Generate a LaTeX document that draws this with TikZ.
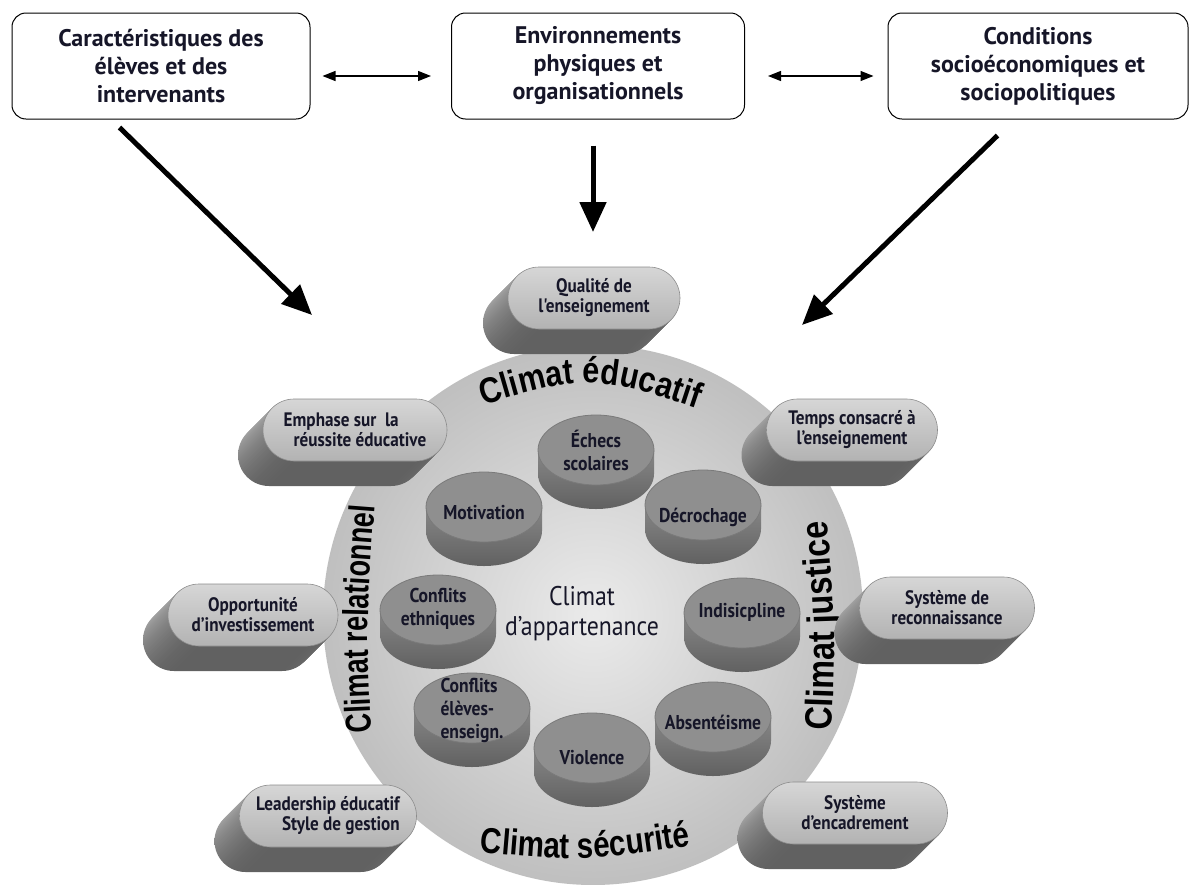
\documentclass[tikz,border=0pt]{standalone}
\usepackage{fontspec}
\setmainfont{PT Sans}
\newfontfamily\labelfont[FakeStretch=0.88]{PT Sans}
\newfontfamily\climatfont[FakeStretch=0.85]{Liberation Sans}
\newfontfamily\climatmid[FakeStretch=0.82]{Liberation Sans}
\newfontfamily\climatnarrow[FakeStretch=0.75]{Liberation Sans}
\usetikzlibrary{positioning,arrows.meta,decorations.text}

\definecolor{ink}{RGB}{22,22,40}

\tikzset{
  topbox/.style={draw=black, line width=1pt, rounded corners=14pt, fill=white,
    minimum height=106pt, align=center, text=ink,
    font=\bfseries\fontsize{24}{28}\selectfont},
  dblarrow/.style={line width=1.3pt,
    {Triangle[length=13pt,width=10pt]}-{Triangle[length=13pt,width=10pt]}},
  bigarrow/.style={line width=5pt, -{Triangle[length=30pt,width=26pt]}},
  pill/.style={draw=black!45, line width=0.6pt, rounded corners=31pt,
    minimum height=62pt, top color=black!16, bottom color=black!30,
    inner sep=2pt, text=ink, font=\labelfont\bfseries\fontsize{19.5}{20}\selectfont},
  disctext/.style={text=ink, font=\labelfont\bfseries\fontsize{20}{23}\selectfont},
  climat/.style={decorate, decoration={text along path, text align=center, text={#1}}}
}

\begin{document}
\begin{tikzpicture}[x=1pt, y=-1pt]
    \useasboundingbox (0,0) rectangle (1200,884);
    \fill[white] (0,0) rectangle (1200,884);

    % the three sources
    \node[topbox, minimum width=298pt] (car) at (161,66) {Caractéristiques des\\élèves et des\\intervenants};
    \node[topbox, minimum width=293pt] (env) at (598,66) {Environnements\\physiques et\\organisationnels};
    \node[topbox, minimum width=300pt] (cond) at (1038,66) {Conditions\\socioéconomiques et\\sociopolitiques};

    \draw[dblarrow] ([xshift=12pt,yshift=-10pt]car.east) -- ([xshift=-20pt,yshift=-10pt]env.west);
    \draw[dblarrow] ([xshift=23pt,yshift=-10pt]env.east) -- ([xshift=-14pt,yshift=-10pt]cond.west);

    \coordinate (tipcar) at (312,315);
    \coordinate (tipenv) at (593,232);
    \coordinate (tipcond) at (802,325);
    \draw[bigarrow] ([xshift=108pt,yshift=-8pt]car.south west) -- (tipcar);
    \draw[bigarrow] ([xshift=-5pt,yshift=-26pt]env.south) -- (tipenv);
    \draw[bigarrow] ([xshift=110pt,yshift=-16pt]cond.south west) -- (tipcond);

    % the climate disc
    \node[circle, minimum size=540pt, inner sep=0pt, shading=radial,
          inner color=black!8, outer color=black!25] (cercle) at (593,615) {};

    \path[climat={|\climatfont\bfseries\fontsize{36}{36}\selectfont|Climat éducatif}]
        (455,414) .. controls (590,372) .. (725,418);
    \path[climat={|\climatmid\bfseries\fontsize{36}{36}\selectfont|Climat sécurité}]
        (455,850) .. controls (585,862) .. (715,842);
    \path[climat={|\climatfont\bfseries\fontsize{38}{38}\selectfont|Climat justice}]
        (831,752) .. controls (836,630) .. (826,500);
    \path[climat={|\climatnarrow\bfseries\fontsize{36}{36}\selectfont|Climat relationnel}]
        (372,748) .. controls (366,620) .. (376,490);

    % pills round the disc
    \foreach \nm/\x/\y/\w/\al/\txt in {
        qual/594/298/172/center/{Qualité de\\l'enseignement},
        emph/355/430/184/left/{Emphase sur\ \ la\\\hspace{10pt}réussite éducative},
        temps/852/430/171/center/{Temps consacré à\\l’enseignement},
        opport/253/615/170/center/{Opportunité\\d’investissement},
        leader/328/816/177/right/{Leadership éducatif\\Style de gestion},
        reconn/947/608/175/center/{Système de\\reconnaissance},
        encad/855/813/185/center/{Système\\d’encadrement}}
    {
        \foreach \k in {25,24,...,1}
            \shade[top color=black!30, bottom color=black!62, rounded corners=31pt]
                (\x-\w/2-\k, \y-31+\k) rectangle ++(\w, 62);
        \node[pill, minimum width=\w pt, align=\al] (\nm) at (\x,\y) {\txt};
    }

    % cylinders
    \foreach \nm/\x/\y/\ty/\al/\txt in {
        echecs/596/450/450/center/{Échecs\\scolaires},
        decroch/703/505/517/center/{Décrochage},
        motiv/484/507/513/center/{Motivation},
        confeth/438/610/609/center/{Conflits\\ethniques},
        indisc/742/613/612/center/{Indisicpline},
        confel/472/708/710/left/{Conflits\\élèves-\\enseign.},
        absent/713/717/722/center/{Absentéisme},
        violence/592/748/758/center/{Violence}}
    {
        \shade[top color=black!47, bottom color=black!62]
            (\x-58,\y) -- (\x-58,\y+24)
            arc[start angle=180, end angle=360, x radius=58pt, y radius=35pt]
            -- (\x+58,\y) -- cycle;
        \fill[black!44, draw=black!52, line width=0.8pt] (\x,\y) ellipse[x radius=58pt, y radius=35pt];
        \node[disctext, align=\al] (\nm) at (\x,\ty) {\txt};
    }

    \node[text=ink, align=center, font=\labelfont\fontsize{27}{30}\selectfont] (appart) at (582,614)
        {Climat\\d’appartenance};
\end{tikzpicture}
\end{document}
